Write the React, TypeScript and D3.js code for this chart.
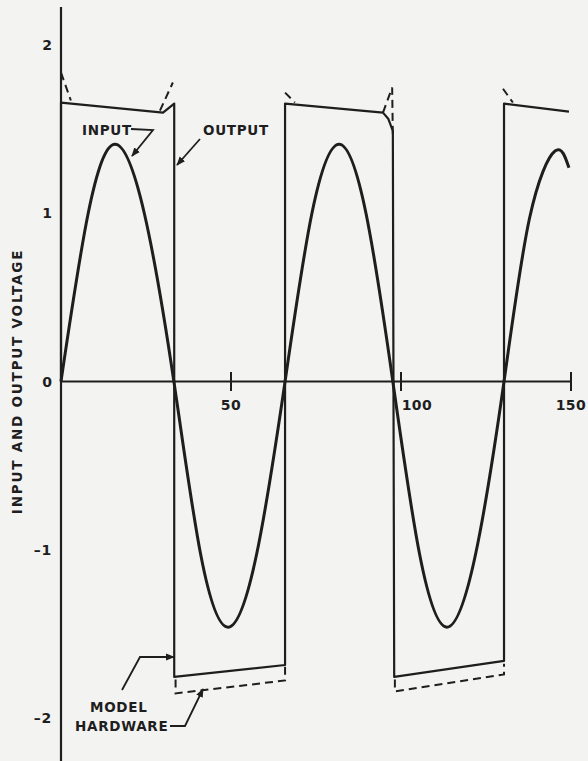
import React from "react";
import * as d3 from "d3";

// ---- data ----
// time axis
const xTicks = [50, 100, 150];
const yTicks = [2, 1, 0, -1, -2];

// input sine wave [t, voltage]
const inputT = [0, 8.0, 15.9, 24.5, 33.2, 41.1, 49.1, 57.5, 65.9, 73.8, 81.8, 89.7, 97.6, 105.5, 113.5, 121.9, 130.3, 137.8, 145.3, 149.4];
const inputV = [0, 1.0, 1.41, 1.0, 0, -1.03, -1.46, -1.03, 0, 1.0, 1.41, 1.0, 0, -1.03, -1.46, -1.03, 0, 0.97, 1.37, 1.27];

// model output (solid square wave)
const modelT = [0, 0, 30.0, 33.3, 33.3, 65.9, 65.9, 94.7, 96.3, 97.6, 98.0, 130.3, 130.3, 149.4];
const modelV = [0, 1.658, 1.598, 1.652, -1.756, -1.685, 1.652, 1.598, 1.56, 1.49, -1.756, -1.661, 1.652, 1.604];

// hardware output (dashed pieces where it differs from model)
const hwSegments: [number, number][][] = [
  [[0, 1.836], [2.9, 1.67]],
  [[29.1, 1.61], [32.9, 1.777]],
  [[65.9, 1.717], [68.8, 1.658]],
  [[94.7, 1.598], [97.4, 1.747], [97.6, 1.46]],
  [[130.0, 1.74], [132.9, 1.658]],
  [[33.7, -1.771], [33.7, -1.854], [65.9, -1.777], [65.9, -1.693]],
  [[98.2, -1.771], [98.2, -1.842], [130.3, -1.741], [130.3, -1.678]],
];

const W = 588;
const H = 761;
const INK = "#1e1e1e";
const FONT = "'DejaVu Sans', sans-serif";

export default function App() {
  const x = d3.scaleLinear().domain([0, 150]).range([61, 571]);
  const y = d3.scaleLinear().domain([-2, 2]).range([718, 45]);

  const line = d3
    .line<[number, number]>()
    .x((d) => x(d[0]))
    .y((d) => y(d[1]));
  const smooth = d3
    .line<[number, number]>()
    .x((d) => x(d[0]))
    .y((d) => y(d[1]))
    .curve(d3.curveNatural);

  const inputPts = inputT.map((t, i) => [t, inputV[i]] as [number, number]);
  const modelPts = modelT.map((t, i) => [t, modelV[i]] as [number, number]);

  const x0 = x(0);
  const y0 = y(0);

  const lbl = {
    fontFamily: FONT,
    fontWeight: 700,
    fontSize: 13.5,
    letterSpacing: 0.7,
    fill: INK,
  } as const;

  return (
    <svg
      width={W}
      height={H}
      style={{ position: "absolute", left: 0, top: 0, display: "block" }}
    >
      <defs>
        <marker
          id="arr"
          viewBox="0 0 10 10"
          refX="9"
          refY="5"
          markerWidth="9"
          markerHeight="9"
          markerUnits="userSpaceOnUse"
          orient="auto"
        >
          <path d="M0,1 L10,5 L0,9 Z" fill={INK} />
        </marker>
      </defs>
      <rect x={0} y={0} width={W} height={H} fill="#f3f3f2" />

      {/* axes */}
      <line x1={x0} x2={x0} y1={7} y2={H} stroke={INK} strokeWidth={2.2} />
      <line x1={x0} x2={x(150)} y1={y0} y2={y0} stroke={INK} strokeWidth={2.2} />
      {xTicks.map((t) => (
        <g key={t}>
          <line x1={x(t)} x2={x(t)} y1={y0 - 9.5} y2={y0 + 9.5} stroke={INK} strokeWidth={2} />
          <text
            x={t === 100 ? x(t) + 16 : x(t)}
            y={y0 + 28}
            textAnchor="middle"
            style={{ fontFamily: FONT, fontWeight: 700, fontSize: 14, fill: INK, letterSpacing: 0.5 }}
          >
            {t}
          </text>
        </g>
      ))}
      {yTicks.map((v) => (
        <text
          key={v}
          x={52}
          y={y(v) + 5}
          textAnchor="end"
          style={{ fontFamily: FONT, fontWeight: 700, fontSize: 14, fill: INK, letterSpacing: v < 0 ? 0.8 : 0 }}
        >
          {v < 0 ? "\u2013" + Math.abs(v) : String(v)}
        </text>
      ))}
      <text
        transform={`translate(22,${y0}) rotate(-90)`}
        textAnchor="middle"
        style={{ ...lbl, fontSize: 13.5, letterSpacing: 1.8 }}
      >
        INPUT AND OUTPUT VOLTAGE
      </text>

      {/* hardware (dashed) */}
      {hwSegments.map((seg, i) => (
        <path
          key={i}
          d={line(seg) || ""}
          fill="none"
          stroke={INK}
          strokeWidth={2}
          strokeDasharray="8,5"
        />
      ))}

      {/* model output */}
      <path d={line(modelPts) || ""} fill="none" stroke={INK} strokeWidth={2.2} strokeLinejoin="round" />

      {/* input sine */}
      <path d={smooth(inputPts) || ""} fill="none" stroke={INK} strokeWidth={3} strokeLinejoin="round" />

      {/* annotations */}
      <text x={82} y={135} style={lbl}>INPUT</text>
      <polyline
        points="131,129 153,130 132,156"
        fill="none"
        stroke={INK}
        strokeWidth={1.8}
        markerEnd="url(#arr)"
      />
      <text x={203} y={135} style={lbl}>OUTPUT</text>
      <polyline
        points="200,139 177,165"
        fill="none"
        stroke={INK}
        strokeWidth={1.8}
        markerEnd="url(#arr)"
      />
      <text x={90} y={712} style={lbl}>MODEL</text>
      <polyline
        points="122,690 140,657 174,657"
        fill="none"
        stroke={INK}
        strokeWidth={1.8}
        markerEnd="url(#arr)"
      />
      <text x={75} y={731} style={lbl}>HARDWARE</text>
      <polyline
        points="170,726 185,726 203,689"
        fill="none"
        stroke={INK}
        strokeWidth={1.8}
        markerEnd="url(#arr)"
      />
    </svg>
  );
}
